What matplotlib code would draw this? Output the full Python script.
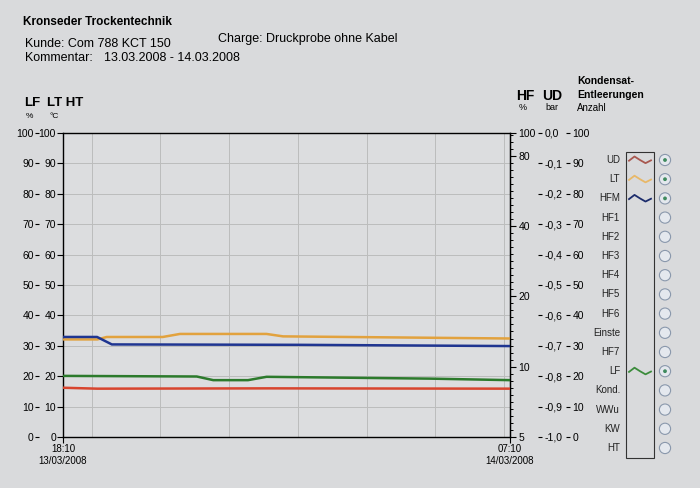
import matplotlib.pyplot as plt
import numpy as np
from matplotlib.patches import Circle, Rectangle
from matplotlib.ticker import FixedLocator, FuncFormatter, NullFormatter

plt.rcParams["font.family"] = ["Liberation Sans", "DejaVu Sans"]

# time in hours after 18:10 on 13/03/2008
ud_t = [0.0, 1.0, 6.0, 13.0]
ud_bar = [-0.838, -0.841, -0.840, -0.841]

lt_t = [0.0, 1.0, 1.27, 2.9, 3.4, 5.92, 6.4, 13.0]
lt_c = [32.1, 32.1, 32.9, 32.9, 33.9, 33.9, 33.1, 32.4]

hfm_t = [0.0, 0.99, 1.42, 6.9, 13.0]
hfm_pct = [13.4, 13.4, 12.45, 12.4, 12.25]

lf_t = [0.0, 3.89, 4.37, 5.38, 5.92, 10.67, 13.0]
lf_pct = [20.1, 19.9, 18.7, 18.7, 19.8, 19.2, 18.7]

time_ticks = [0, 13]
time_labels = ["18:10\n13/03/2008", "07:10\n14/03/2008"]
grid_hours = [0.833, 2.833, 4.833, 6.833, 8.833, 10.833, 12.833]

hf_ticks = [5, 10, 20, 40, 80, 100]
ud_ticks = [-1.0, -0.9, -0.8, -0.7, -0.6, -0.5, -0.4, -0.3, -0.2, -0.1, 0.0]
pct_ticks = [0, 10, 20, 30, 40, 50, 60, 70, 80, 90, 100]

leg_labels = ["UD", "LT", "HFM", "HF1", "HF2", "HF3", "HF4", "HF5", "HF6",
              "Einste", "HF7", "LF", "Kond.", "WWu", "KW", "HT"]
leg_colors = {"UD": "#a85850", "LT": "#e8b868", "HFM": "#1c2c6c", "LF": "#3c8c3c"}

bg = "#d9dadc"
c_ud, c_lt, c_hfm, c_lf = "#d8452f", "#e2a23e", "#1f3591", "#2c7a2c"

fig = plt.figure(figsize=(7, 4.88), dpi=100, facecolor=bg)

# overlay in pixel coordinates for header and legend panel
ov = fig.add_axes([0, 0, 1, 1])
ov.set_xlim(0, 700)
ov.set_ylim(488, 0)
ov.axis("off")
ov.patch.set_visible(False)

ax = fig.add_axes([63 / 700, 1 - 437 / 488, 447 / 700, 304 / 488])
ax.set_facecolor("#dcdddf")
ax.set_xlim(0, 13)
ax.set_ylim(0, 100)
ax.set_yticks(pct_ticks)
ax.set_xticks(time_ticks)
ax.set_xticklabels(time_labels)
ax.set_xticks(grid_hours, minor=True)
ax.grid(axis="y", which="major", color="#bcbcbc", lw=0.7)
ax.grid(axis="x", which="minor", color="#bcbcbc", lw=0.7)
ax.tick_params(axis="y", length=4, width=0.8, pad=1, labelsize=7.5)
ax.tick_params(axis="x", which="major", length=4, width=0.8, pad=1, labelsize=7)
ax.tick_params(axis="x", which="minor", length=0)
for s in ax.spines.values():
    s.set_linewidth(1.0)

# outer left column (LF %)
ax_lf = ax.twinx()
ax_lf.set_ylim(0, 100)
ax_lf.yaxis.tick_left()
ax_lf.spines["left"].set_position(("outward", 17))
for s in ax_lf.spines.values():
    s.set_visible(False)
ax_lf.set_yticks(pct_ticks)
ax_lf.tick_params(axis="y", length=3, width=0.8, pad=1, labelsize=7.5)

# HF log axis
ax_hf = ax.twinx()
ax_hf.set_yscale("log")
ax_hf.set_ylim(5, 100)
ax_hf.yaxis.set_major_locator(FixedLocator(hf_ticks))
ax_hf.yaxis.set_major_formatter(FuncFormatter(lambda v, p: f"{v:g}"))
minor = [5 * 2 ** (k / 10) for k in range(1, 44)]
ax_hf.yaxis.set_minor_locator(FixedLocator(minor))
ax_hf.yaxis.set_minor_formatter(NullFormatter())
ax_hf.tick_params(axis="y", which="major", length=4, width=0.8, pad=2, labelsize=7.5)
ax_hf.tick_params(axis="y", which="minor", length=2.5, width=0.7)
for k in ["top", "bottom", "left"]:
    ax_hf.spines[k].set_visible(False)

# UD bar axis
ax_ud = ax.twinx()
ax_ud.set_ylim(-1, 0)
ax_ud.spines["right"].set_position(("outward", 20))
for s in ax_ud.spines.values():
    s.set_visible(False)
ax_ud.yaxis.set_major_locator(FixedLocator(ud_ticks))
ax_ud.yaxis.set_major_formatter(
    FuncFormatter(lambda v, p: "0,0" if abs(v) < 1e-9 else f"{v:.1f}".replace(".", ",")))
ax_ud.tick_params(axis="y", length=3, width=0.8, pad=2, labelsize=7.5)

# Kondensat axis
ax_k = ax.twinx()
ax_k.set_ylim(0, 100)
ax_k.spines["right"].set_position(("outward", 40))
for s in ax_k.spines.values():
    s.set_visible(False)
ax_k.set_yticks(pct_ticks)
ax_k.tick_params(axis="y", length=3, width=0.8, pad=2, labelsize=7.5)

# data lines
ax.plot(lt_t, lt_c, color=c_lt, lw=1.8, zorder=3)
ax.plot(lf_t, lf_pct, color=c_lf, lw=1.8, zorder=3)
ax_ud.plot(ud_t, ud_bar, color=c_ud, lw=1.8)
ax_hf.plot(hfm_t, hfm_pct, color=c_hfm, lw=1.8)

# header
ov.text(23, 22, "Kronseder Trockentechnik", fontsize=8.5, fontweight="bold", va="center")
ov.text(25, 44, "Kunde: Com 788 KCT 150", fontsize=9, va="center")
ov.text(218, 39, "Charge: Druckprobe ohne Kabel", fontsize=9, va="center")
ov.text(25, 58, "Kommentar:", fontsize=9, va="center")
ov.text(104, 58, "13.03.2008 - 14.03.2008", fontsize=9, va="center")

ov.text(24, 103, "LF", fontsize=9.5, fontweight="bold", va="center")
ov.text(26, 116, "%", fontsize=6, va="center")
ov.text(47, 103, "LT HT", fontsize=9.5, fontweight="bold", va="center")
ov.text(49, 116, "°C", fontsize=6, va="center")
ov.text(516, 96, "HF", fontsize=10, fontweight="bold", va="center")
ov.text(519, 108, "%", fontsize=6.5, va="center")
ov.text(542, 96, "UD", fontsize=10, fontweight="bold", va="center")
ov.text(545, 108, "bar", fontsize=6.5, va="center")
ov.text(577, 81, "Kondensat-", fontsize=7.5, fontweight="bold", va="center")
ov.text(577, 95, "Entleerungen", fontsize=7.5, fontweight="bold", va="center")
ov.text(577, 108, "Anzahl", fontsize=7, va="center")

# legend panel
ov.add_patch(Rectangle((626, 152), 28, 306, fill=False, ec="#333333", lw=0.8))
wx = np.linspace(0, 1, 5)
wy = np.array([0.2, -1.0, 0.0, 0.9, 0.1])
for i, name in enumerate(leg_labels):
    y = 160 + i * 19.2
    ov.text(620, y, name, fontsize=7, ha="right", va="center", color="#222222")
    ov.add_patch(Circle((665, y), 5.6, fc="#e4e8ee", ec="#8a98ac", lw=0.8))
    if name in leg_colors:
        ov.plot(629 + 22 * wx, y + 3.5 * wy, color=leg_colors[name], lw=1.3)
        ov.add_patch(Circle((665, y), 1.9, fc="#3f8a5e", ec="none"))

fig.savefig("out.png", dpi=100, facecolor=bg)
